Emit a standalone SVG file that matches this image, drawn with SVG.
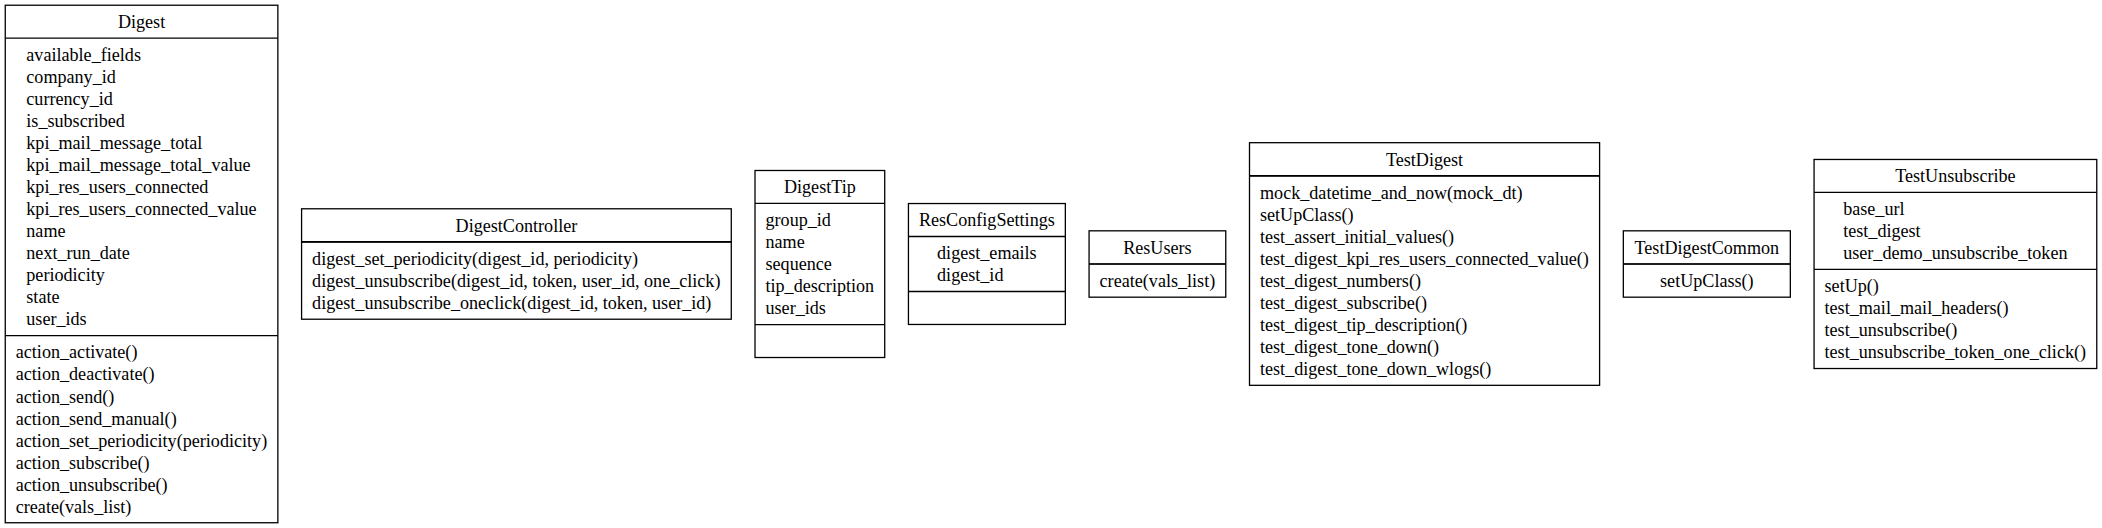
<svg xmlns="http://www.w3.org/2000/svg" width="2102" height="528" viewBox="0 0 2102 528">
<style>
.box{fill:#fff;stroke:#000;stroke-width:1.3}
.sep{stroke:#000;stroke-width:1.3;fill:none}
.t{font-family:"Liberation Serif","Times New Roman",serif;font-size:18.12px;fill:#000}
.c{text-anchor:middle}
</style>
<rect x="0" y="0" width="2102" height="528" fill="#fff"/>
<g id="connectors"></g>

<g id="Digest">
<rect class="box" x="5.25" y="5.23" width="272.6" height="517.52"/>
<line class="sep" x1="5.25" y1="38.19" x2="277.85" y2="38.19"/>
<line class="sep" x1="5.25" y1="335.55" x2="277.85" y2="335.55"/>
<text class="t c" x="141.55" y="28.1">Digest</text>
<text class="t" x="26.3" y="61.1">available_fields<tspan x="26.3" dy="22.03">company_id</tspan><tspan x="26.3" dy="22.03">currency_id</tspan><tspan x="26.3" dy="22.03">is_subscribed</tspan><tspan x="26.3" dy="22.03">kpi_mail_message_total</tspan><tspan x="26.3" dy="22.03">kpi_mail_message_total_value</tspan><tspan x="26.3" dy="22.03">kpi_res_users_connected</tspan><tspan x="26.3" dy="22.03">kpi_res_users_connected_value</tspan><tspan x="26.3" dy="22.03">name</tspan><tspan x="26.3" dy="22.03">next_run_date</tspan><tspan x="26.3" dy="22.03">periodicity</tspan><tspan x="26.3" dy="22.03">state</tspan><tspan x="26.3" dy="22.03">user_ids</tspan></text>
<text class="t" x="15.75" y="358.45">action_activate()<tspan x="15.75" dy="22.03">action_deactivate()</tspan><tspan x="15.75" dy="22.03">action_send()</tspan><tspan x="15.75" dy="22.03">action_send_manual()</tspan><tspan x="15.75" dy="22.03">action_set_periodicity(periodicity)</tspan><tspan x="15.75" dy="22.03">action_subscribe()</tspan><tspan x="15.75" dy="22.03">action_unsubscribe()</tspan><tspan x="15.75" dy="22.03">create(vals_list)</tspan></text>
</g>

<g id="DigestController">
<rect class="box" x="301.58" y="208.79" width="429.7" height="110.43"/>
<line class="sep" x1="301.58" y1="241.75" x2="731.28" y2="241.75"/>
<line class="sep" x1="301.58" y1="242.19" x2="731.28" y2="242.19"/>
<text class="t c" x="516.43" y="231.67">DigestController</text>
<text class="t" x="312.08" y="265.07">digest_set_periodicity(digest_id, periodicity)<tspan x="312.08" dy="22.03">digest_unsubscribe(digest_id, token, user_id, one_click)</tspan><tspan x="312.08" dy="22.03">digest_unsubscribe_oneclick(digest_id, token, user_id)</tspan></text>
</g>

<g id="DigestTip">
<rect class="box" x="755.01" y="170.49" width="129.7" height="187.02"/>
<line class="sep" x1="755.01" y1="203.45" x2="884.71" y2="203.45"/>
<line class="sep" x1="755.01" y1="324.55" x2="884.71" y2="324.55"/>
<text class="t c" x="819.86" y="193.37">DigestTip</text>
<text class="t" x="765.5" y="226.34">group_id<tspan x="765.5" dy="22.03">name</tspan><tspan x="765.5" dy="22.03">sequence</tspan><tspan x="765.5" dy="22.03">tip_description</tspan><tspan x="765.5" dy="22.03">user_ids</tspan></text>
</g>

<g id="ResConfigSettings">
<rect class="box" x="908.44" y="203.54" width="156.9" height="120.92"/>
<line class="sep" x1="908.44" y1="236.5" x2="1065.34" y2="236.5"/>
<line class="sep" x1="908.44" y1="291.5" x2="1065.34" y2="291.5"/>
<text class="t c" x="986.89" y="226.42">ResConfigSettings</text>
<text class="t" x="937.06" y="259.39">digest_emails<tspan x="937.06" dy="22.03">digest_id</tspan></text>
</g>

<g id="ResUsers">
<rect class="box" x="1089.07" y="230.82" width="136.7" height="66.36"/>
<line class="sep" x1="1089.07" y1="263.78" x2="1225.77" y2="263.78"/>
<line class="sep" x1="1089.07" y1="264.22" x2="1225.77" y2="264.22"/>
<text class="t c" x="1157.42" y="253.7">ResUsers</text>
<text class="t c" x="1157.42" y="287.1">create(vals_list)</text>
</g>

<g id="TestDigest">
<rect class="box" x="1249.5" y="142.69" width="350.1" height="242.63"/>
<line class="sep" x1="1249.5" y1="175.65" x2="1599.6" y2="175.65"/>
<line class="sep" x1="1249.5" y1="176.09" x2="1599.6" y2="176.09"/>
<text class="t c" x="1424.55" y="165.57">TestDigest</text>
<text class="t" x="1260" y="198.98">mock_datetime_and_now(mock_dt)<tspan x="1260" dy="22.03">setUpClass()</tspan><tspan x="1260" dy="22.03">test_assert_initial_values()</tspan><tspan x="1260" dy="22.03">test_digest_kpi_res_users_connected_value()</tspan><tspan x="1260" dy="22.03">test_digest_numbers()</tspan><tspan x="1260" dy="22.03">test_digest_subscribe()</tspan><tspan x="1260" dy="22.03">test_digest_tip_description()</tspan><tspan x="1260" dy="22.03">test_digest_tone_down()</tspan><tspan x="1260" dy="22.03">test_digest_tone_down_wlogs()</tspan></text>
</g>

<g id="TestDigestCommon">
<rect class="box" x="1623.33" y="230.82" width="167" height="66.36"/>
<line class="sep" x1="1623.33" y1="263.78" x2="1790.33" y2="263.78"/>
<line class="sep" x1="1623.33" y1="264.22" x2="1790.33" y2="264.22"/>
<text class="t c" x="1706.83" y="253.7">TestDigestCommon</text>
<text class="t c" x="1706.83" y="287.1">setUpClass()</text>
</g>

<g id="TestUnsubscribe">
<rect class="box" x="1814.06" y="159.47" width="282.7" height="209.05"/>
<line class="sep" x1="1814.06" y1="192.43" x2="2096.76" y2="192.43"/>
<line class="sep" x1="1814.06" y1="269.46" x2="2096.76" y2="269.46"/>
<text class="t c" x="1955.41" y="182.35">TestUnsubscribe</text>
<text class="t" x="1843.2" y="215.31">base_url<tspan x="1843.2" dy="22.03">test_digest</tspan><tspan x="1843.2" dy="22.03">user_demo_unsubscribe_token</tspan></text>
<text class="t" x="1824.56" y="292.35">setUp()<tspan x="1824.56" dy="22.03">test_mail_mail_headers()</tspan><tspan x="1824.56" dy="22.03">test_unsubscribe()</tspan><tspan x="1824.56" dy="22.03">test_unsubscribe_token_one_click()</tspan></text>
</g>
</svg>
